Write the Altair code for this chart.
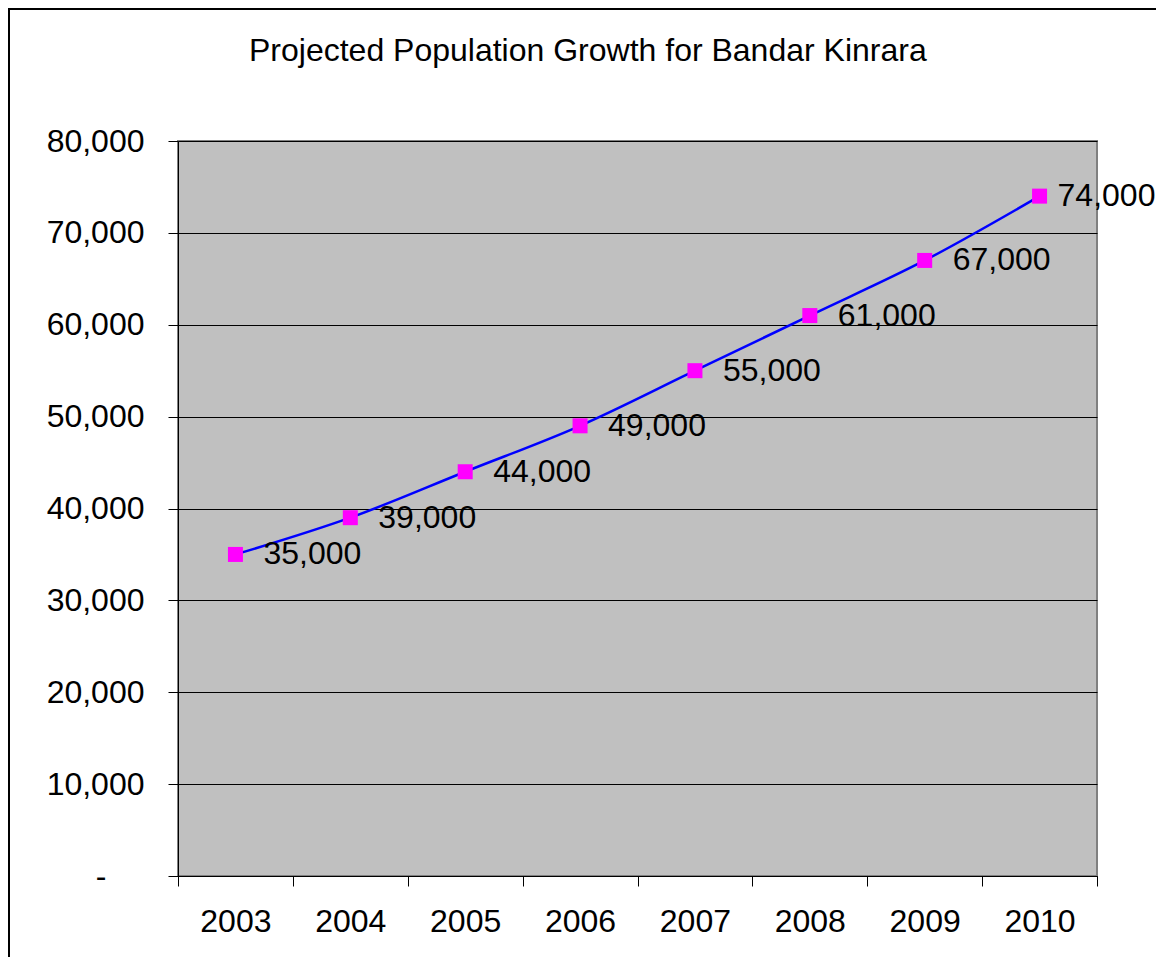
import altair as alt
import pandas as pd

years = [2003, 2004, 2005, 2006, 2007, 2008, 2009, 2010]
population = [35000, 39000, 44000, 49000, 55000, 61000, 67000, 74000]
y_ticks = [0, 10000, 20000, 30000, 40000, 50000, 60000, 70000, 80000]
x_edges = [2002.5, 2003.5, 2004.5, 2005.5, 2006.5, 2007.5, 2008.5, 2009.5, 2010.5]
title_text = "Projected Population Growth for Bandar Kinrara"

df = pd.DataFrame({"year": years, "pop": population})
FONT = "Liberation Sans"

W, H = 919, 735
PL, PT = 170, 133
TOTW, TOTH = 1148, 949

x = alt.X("year:Q",
          scale=alt.Scale(domain=[2002.5, 2010.5], nice=False, zero=False),
          axis=alt.Axis(values=x_edges, title=None, grid=False,
                        labelExpr="datum.value > 2010 ? '' : format(datum.value + 0.5, 'd')",
                        labelOffset=57.4, labelOverlap=False, labelFlush=False,
                        labelBound=False,
                        tickSize=10, tickColor="black", domainColor="black",
                        labelFont=FONT, labelFontSize=32, labelColor="black",
                        labelPadding=20))
y = alt.Y("pop:Q",
          scale=alt.Scale(domain=[0, 80000], nice=False),
          axis=alt.Axis(values=y_ticks, title=None, grid=True,
                        gridColor="black", gridWidth=1, gridOpacity=1,
                        labelExpr="datum.value == 0 ? '-' : format(datum.value, ',')",
                        tickSize=10, tickColor="black", domainColor="black",
                        labelFont=FONT, labelFontSize=32, labelColor="black",
                        labelPadding=alt.condition("datum.value == 0", alt.value(62), alt.value(24))))

base = alt.Chart(df)
line = base.mark_line(color="#0000FF", strokeWidth=2.5, interpolate="monotone").encode(x=x, y=y)
pts = base.mark_square(color="#FF00FF", size=225, opacity=1, filled=True).encode(x="year:Q", y="pop:Q")
labels = base.transform_filter("datum.year < 2010").mark_text(
    align="left", baseline="middle", dx=28, font=FONT, fontSize=32, color="black").encode(
    x="year:Q", y="pop:Q", text=alt.Text("pop:Q", format=","))
labels_last = base.transform_filter("datum.year == 2010").mark_text(
    align="left", baseline="middle", dx=18, font=FONT, fontSize=32, color="black").encode(
    x="year:Q", y="pop:Q", text=alt.Text("pop:Q", format=","))

title = alt.Chart(pd.DataFrame({"t": [title_text]})).mark_text(
    align="left", baseline="alphabetic", font=FONT, fontSize=32, color="black",
    clip=False).encode(text="t:N", x=alt.value(71), y=alt.value(-80))

frame = alt.Chart(pd.DataFrame({"a": [0]})).mark_rect(
    fill=None, stroke="black", strokeWidth=2, clip=False).encode(
    x=alt.value(-PL + 1), x2=alt.value(TOTW - PL + 20),
    y=alt.value(-PT + 1), y2=alt.value(TOTH - PT + 20))

chart = alt.layer(line, pts, labels, labels_last, title, frame).properties(
    width=W, height=H,
    autosize=alt.AutoSizeParams(type="none"),
    padding={"left": PL, "top": PT, "right": TOTW - PL - W, "bottom": TOTH - PT - H},
    background="white",
).configure_view(fill="#C0C0C0", stroke="#808080", strokeWidth=2)

chart.save("out.html", embed_options={"renderer": "svg", "actions": False})
